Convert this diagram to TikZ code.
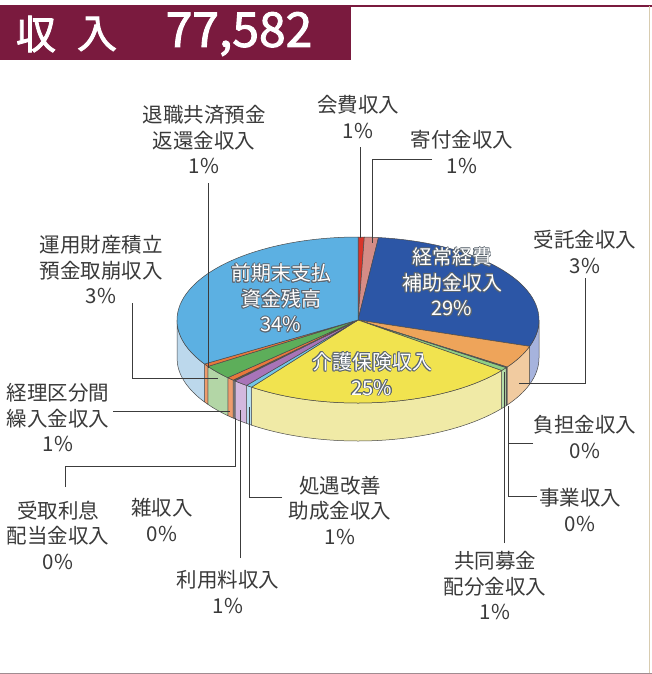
\documentclass[tikz,border=0pt]{standalone}
\usepackage{fontspec}
\setmainfont{Noto Sans CJK JP}
\newfontfamily\titlefont[FakeBold=2]{Noto Sans CJK JP}
\usetikzlibrary{calc}
\definecolor{maroon}{HTML}{7A1A3E}
\definecolor{labc}{HTML}{3A3A3A}
\definecolor{leadc}{HTML}{3C3C3C}
\definecolor{edgec}{HTML}{4A4A4A}
\definecolor{olc}{HTML}{5C6670}
% top colours
\definecolor{cKaihi}{HTML}{D8352A}
\definecolor{cKifu}{HTML}{D58C86}
\definecolor{cKeijo}{HTML}{2C56A6}
\definecolor{cJutaku}{HTML}{EEA45A}
\definecolor{cTiny}{HTML}{BFBFBF}
\definecolor{cKyodo}{HTML}{8FCF84}
\definecolor{cKaigo}{HTML}{F1E34F}
\definecolor{cShogu}{HTML}{72C6E6}
\definecolor{cRiyo}{HTML}{A874B8}
\definecolor{cOrange}{HTML}{E8773C}
\definecolor{cUnyo}{HTML}{5DAE5A}
\definecolor{cZenki}{HTML}{5CB0E2}
% side colours
\definecolor{sKeijo}{HTML}{A6B3DD}
\definecolor{sJutaku}{HTML}{F1CBA0}
\definecolor{sTiny}{HTML}{DDDDDD}
\definecolor{sKyodo}{HTML}{B5DCA8}
\definecolor{sKaigo}{HTML}{F0EAA6}
\definecolor{sShogu}{HTML}{B7DEF0}
\definecolor{sRiyo}{HTML}{D3B8DE}
\definecolor{sOrange}{HTML}{EE9C6C}
\definecolor{sUnyo}{HTML}{B3D6A6}
\definecolor{sZenki}{HTML}{BCD8EC}
\newcommand\topslice[3]{\filldraw[slice,fill=#3] (c) -- ++(#1:181 and 83) arc[start angle=#1,end angle=#2,x radius=181,y radius=83] -- cycle;}
\newcommand\sideslice[3]{\filldraw[slice,fill=#3] ($(c)+(#1:181 and 83)$) arc[start angle=#1,end angle=#2,x radius=181,y radius=83] -- ++(0,38) arc[start angle=#2,end angle=#1,x radius=181,y radius=83] -- cycle;}
% white text with a grey halo
\newcommand\olabel[3]{%
  \foreach \oa in {0,30,...,330}{\node[inlab,text=olc] (#1-\oa) at ($(#2)+(\oa:0.9)$) {#3};}
  \node[inlab,text=white] (#1) at (#2) {#3};}
\begin{document}
\begin{tikzpicture}[x=1pt,y=-1pt,
  lab/.style={font=\fontsize{20.5}{25.5}\selectfont, text=labc, align=center, inner sep=0pt},
  inlab/.style={font=\fontsize{20}{25.5}\selectfont, align=center, inner sep=0pt},
  lead/.style={draw=leadc, line width=0.9pt},
  slice/.style={draw=edgec, line width=0.5pt, line join=round}]
\useasboundingbox (0,0) rectangle (652,674);
\fill[white] (0,0) rectangle (652,674);
% frame and title
\fill[maroon] (0,6) rectangle (351,60);
\draw[maroon, line width=1.5pt] (0,6) -- (652,6);
\draw[color={rgb,255:red,216;green,204;blue,176}, line width=0.8pt] (649,6) -- (649,673);
\draw[color={rgb,255:red,160;green,140;blue,145}, line width=1pt] (0,673) -- (652,673);
\node[text=white, font=\titlefont\fontsize{40}{40}\selectfont, inner sep=0] (tshu) at (36,34) {収};
\node[text=white, font=\titlefont\fontsize{40}{40}\selectfont, inner sep=0] (tnyu) at (97,34) {入};
\node[text=white, font=\titlefont\fontsize{48}{48}\selectfont, inner sep=0] (tnum) at (239,34) {77,582};
% pie
\coordinate (c) at (358,320);
% sides (front half)
\sideslice{0}{18.5}{sKeijo}
\sideslice{18.5}{34.5}{sJutaku}
\sideslice{34.5}{34.8}{sTiny}
\sideslice{34.8}{35.1}{sTiny}
\sideslice{35.1}{37.5}{sKyodo}
\sideslice{37.5}{126}{sKaigo}
\sideslice{126}{128}{sShogu}
\sideslice{128}{132.8}{sRiyo}
\sideslice{132.8}{133.2}{sTiny}
\sideslice{133.2}{133.6}{sTiny}
\sideslice{133.6}{136}{sOrange}
\sideslice{136}{146}{sUnyo}
\sideslice{146}{148}{sOrange}
\sideslice{148}{180}{sZenki}
% top
\topslice{-90}{-88}{cKaihi}
\topslice{-88}{-83.5}{cKifu}
\topslice{-83.5}{18.5}{cKeijo}
\topslice{18.5}{34.5}{cJutaku}
\topslice{34.5}{34.8}{cTiny}
\topslice{34.8}{35.1}{cTiny}
\topslice{35.1}{37.5}{cKyodo}
\topslice{37.5}{126}{cKaigo}
\topslice{126}{128}{cShogu}
\topslice{128}{132.8}{cRiyo}
\topslice{132.8}{133.2}{cTiny}
\topslice{133.2}{133.6}{cTiny}
\topslice{133.6}{136}{cOrange}
\topslice{136}{146}{cUnyo}
\topslice{146}{148}{cOrange}
\topslice{148}{270}{cZenki}
% inner labels
\olabel{zenki}{281,298}{前期末支払\\資金残高\\34\%}
\olabel{keijo}{452,282}{経常経費\\補助金収入\\29\%}
\olabel{kaigo}{372,374}{介護保険収入\\25\%}
% outer labels
\node[lab] (kaihi) at (358,117) {会費収入\\1\%};
\node[lab] (kifu) at (462,152) {寄付金収入\\1\%};
\node[lab] (taisho) at (204,140) {退職共済預金\\返還金収入\\1\%};
\node[lab] (unyo) at (101,270) {運用財産積立\\預金取崩収入\\3\%};
\node[lab] (jutaku) at (585,252) {受託金収入\\3\%};
\node[lab] (keiri) at (58,418) {経理区分間\\繰入金収入\\1\%};
\node[lab] (uketori) at (58,535) {受取利息\\配当金収入\\0\%};
\node[lab] (zatsu) at (162,520) {雑収入\\0\%};
\node[lab] (riyo) at (228,592) {利用料収入\\1\%};
\node[lab] (shogu) at (340,510) {処遇改善\\助成金収入\\1\%};
\node[lab] (futan) at (585,437) {負担金収入\\0\%};
\node[lab] (jigyo) at (580,510) {事業収入\\0\%};
\node[lab] (kyodo) at (495,586) {共同募金\\配分金収入\\1\%};
% leader coordinates
\coordinate (kaihiA) at (360,147); \coordinate (kaihiB) at (360,238);
\coordinate (kifuA) at (432,159);  \coordinate (kifuB) at (372,243);
\coordinate (taishoA) at (208,183); \coordinate (taishoB) at (208,368);
\coordinate (unyoA) at (132,303); \coordinate (unyoB) at (218,378);
\coordinate (jutakuA) at (585,278); \coordinate (jutakuB) at (519,383);
\coordinate (futanA) at (533,443); \coordinate (futanB) at (508,406);
\coordinate (jigyoA) at (537,496); \coordinate (jigyoB) at (508,406);
\coordinate (kyodoA) at (504,543); \coordinate (kyodoB) at (504,372);
\coordinate (keiriA) at (113,411); \coordinate (keiriB) at (230,411);
\coordinate (uketoriA) at (65,487); \coordinate (uketoriM) at (235,466); \coordinate (uketoriB) at (235,418);
\coordinate (riyoA) at (240,558); \coordinate (riyoB) at (240,410);
\coordinate (shoguA) at (282,497); \coordinate (shoguB) at (249,407);
% leaders
\draw[lead] (kaihiA) -- (kaihiB);
\draw[lead] (kifuA) -| (kifuB);
\draw[lead] (taishoA) -- (taishoB);
\draw[lead] (unyoA) |- (unyoB);
\draw[lead] (jutakuA) |- (jutakuB);
\draw[lead] (futanA) -| (futanB);
\draw[lead] (jigyoA) -| (jigyoB);
\draw[lead] (kyodoA) -- (kyodoB);
\draw[lead] (keiriA) -- (keiriB);
\draw[lead] (uketoriA) |- (uketoriM) -- (uketoriB);
\draw[lead] (riyoA) -- (riyoB);
\draw[lead] (shoguA) -| (shoguB);
\end{tikzpicture}
\end{document}
